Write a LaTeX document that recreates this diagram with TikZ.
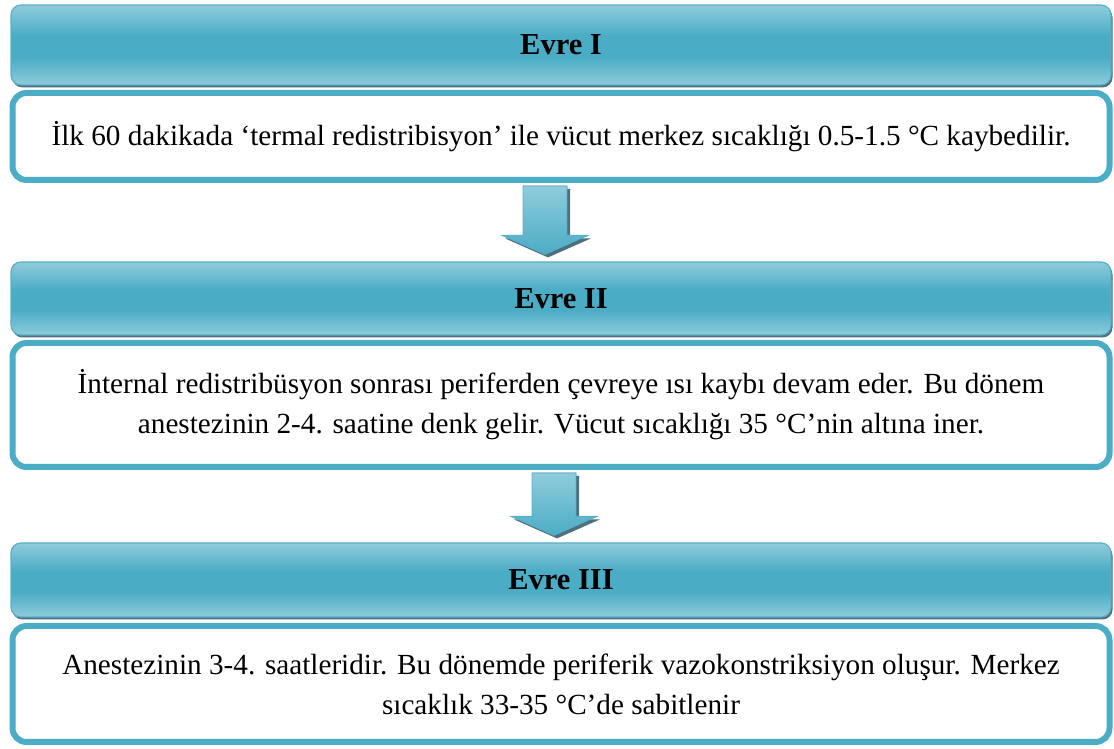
\documentclass[tikz,border=0pt]{standalone}
\usepackage{fontspec}
\setmainfont{Liberation Serif}
\usetikzlibrary{calc,shadows}

\definecolor{evreLight}{RGB}{143,204,219}
\definecolor{evreDark}{RGB}{75,172,198}
\definecolor{evreEdge}{RGB}{88,176,200}
\definecolor{evreShadow}{RGB}{58,96,110}

% light - dark - light band of the header bars
\pgfdeclareverticalshading{evreshade}{100bp}{color(0bp)=(evreLight); color(25bp)=(evreLight); color(42bp)=(evreDark); color(56bp)=(evreDark); color(75bp)=(evreLight); color(100bp)=(evreLight)}

\tikzset{
	evrehead/.style={rectangle, rounded corners=10pt, shade, shading=evreshade, draw=evreEdge, line width=1.2pt, minimum width=1100pt, font=\fontsize{30.5}{34}\selectfont\bfseries, drop shadow={shadow xshift=1.5pt, shadow yshift=-2.5pt, fill=evreShadow, opacity=0.9}},
	evrebox/.style={rectangle, rounded corners=14pt, fill=white, draw=evreDark, line width=6pt, minimum width=1097pt, align=center, font=\fontsize{29.2}{40}\selectfont},
	flowarrow/.style={shade, top color=evreLight, bottom color=evreDark, draw=evreEdge, line width=0.8pt, drop shadow={shadow xshift=3pt, shadow yshift=-3pt, fill=evreShadow, opacity=0.9}}
}

\begin{document}
\begin{tikzpicture}[x=1pt, y=1pt]
		\def\midX{561} % centre of all bars
		\def\shaftW{22} % half width of the arrow shaft
		\def\headW{43} % half width of the arrow head
		
		\useasboundingbox (0,0) rectangle (1114,749);
		
		% Evre I
		\node[evrehead, minimum height=80pt] (head1) at (\midX,704) {Evre I};
		\node[evrebox, minimum height=87pt] (box1) at (\midX,612.5) {İlk 60 dakikada ‘termal redistribisyon’ ile vücut merkez sıcaklığı 0.5-1.5 °C kaybedilir.};
		
		% Evre II
		\node[evrehead, minimum height=73pt] (head2) at (\midX,450.5) {Evre II};
		\node[evrebox, minimum height=124pt] (box2) at (\midX,344) {İnternal redistribüsyon sonrası periferden çevreye ısı kaybı devam eder. Bu dönem\\ anestezinin 2-4. saatine denk gelir. Vücut sıcaklığı 35 °C’nin altına iner.};
		
		% Evre III
		\node[evrehead, minimum height=74pt] (head3) at (\midX,169) {Evre III};
		\node[evrebox, minimum height=116pt] (box3) at (\midX,65) {Anestezinin 3-4. saatleridir. Bu dönemde periferik vazokonstriksiyon oluşur. Merkez\\ sıcaklık 33-35 °C’de sabitlenir};
		
		% Block arrows between the stages
		\foreach \from/\to/\dx in {box1/head2/-16, box2/head3/-7} {
			\filldraw[flowarrow]
				let \p1=([xshift=\dx pt]\from.south), \p2=([xshift=\dx pt]\to.north) in
				(\x1-\shaftW pt,\y1-3pt) -- (\x1+\shaftW pt,\y1-3pt) -- (\x1+\shaftW pt,\y2+26pt)
				-- (\x1+\headW pt,\y2+26pt) -- (\x1,\y2+7pt) -- (\x1-\headW pt,\y2+26pt)
				-- (\x1-\shaftW pt,\y2+26pt) -- cycle;
		}
	\end{tikzpicture}
\end{document}
